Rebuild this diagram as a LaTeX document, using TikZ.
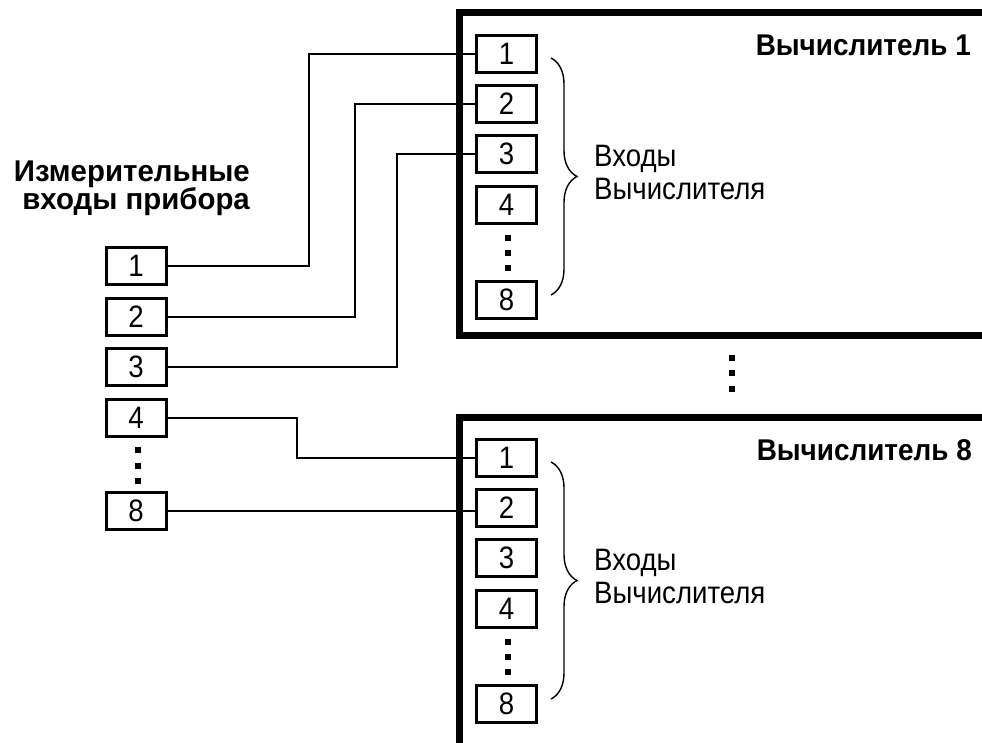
\documentclass[tikz,border=0pt]{standalone}
\usepackage{fontspec}
\setmainfont{Liberation Sans}
\newfontfamily\ttlfont{Liberation Sans}[FakeStretch=0.93]
\newfontfamily\lftfont{Liberation Sans}[FakeStretch=0.98]
\newfontfamily\regfont{Liberation Sans}[FakeStretch=0.89]
\usetikzlibrary{decorations.pathreplacing}
\begin{document}
\begin{tikzpicture}[x=1pt,y=-1pt,
  pin/.style={draw,line width=3pt,minimum width=60pt,minimum height=37.5pt,inner sep=0pt,font=\regfont\fontsize{31}{31}\selectfont},
  frame/.style={line width=7pt},
  wire/.style={line width=2pt},
  sq/.style={fill,minimum size=5.5pt,inner sep=0pt},
  title/.style={font=\ttlfont\bfseries\fontsize{30}{30}\selectfont,inner sep=0pt},
  lbl/.style={font=\regfont\fontsize{31}{33}\selectfont,inner sep=0pt,align=left},
  brc/.style={line width=1.4pt,decorate,decoration={brace,amplitude=26pt,aspect=0.5}}]
\useasboundingbox (0,0) rectangle (982,743);
\clip (0,0) rectangle (982,743);
% frames
\draw[frame] (459,12.5) rectangle (1100,335);
\draw[frame] (459,417) rectangle (1100,900);
% left pins
\node[pin] (L1) at (136,266) {1};
\node[pin] (L2) at (136,317) {2};
\node[pin] (L3) at (136,367) {3};
\node[pin] (L4) at (136,418) {4};
\node[pin] (L8) at (136,511) {8};
\foreach \y [count=\i] in {450,466,481} \node[sq] (ld\i) at (138,\y) {};
% top block pins
\node[pin] (A1) at (506.5,54) {1};
\node[pin] (A2) at (506.5,104) {2};
\node[pin] (A3) at (506.5,154) {3};
\node[pin] (A4) at (506.5,205) {4};
\node[pin] (A8) at (506.5,300) {8};
\foreach \y [count=\i] in {238,253,268} \node[sq] (ad\i) at (508,\y) {};
% bottom block pins
\node[pin] (B1) at (506.5,458) {1};
\node[pin] (B2) at (506.5,508) {2};
\node[pin] (B3) at (506.5,558) {3};
\node[pin] (B4) at (506.5,609) {4};
\node[pin] (B8) at (506.5,704) {8};
\foreach \y [count=\i] in {642,657,672} \node[sq] (bd\i) at (508,\y) {};
% middle dots
\foreach \y [count=\i] in {358,373,389} \node[sq] (md\i) at (732,\y) {};
% braces
\draw[brc] (551,58) -- (551,295);
\draw[brc] (551,462) -- (551,699);
% texts
\node[title,anchor=base east] (T1) at (971,55.5) {Вычислитель 1};
\node[title,anchor=base east] (T8) at (972,460) {Вычислитель 8};
\node[lbl,anchor=west] (I1) at (594,172) {Входы\\Вычислителя};
\node[lbl,anchor=west] (I8) at (594,576) {Входы\\Вычислителя};
\node[inner sep=0pt,align=right,anchor=east,font=\lftfont\bfseries\fontsize{30}{28.5}\selectfont] (M) at (250,188.5) {Измерительные\\входы прибора};
% wires
\coordinate (x1) at (309,0);
\coordinate (x2) at (355,0);
\coordinate (x3) at (397,0);
\coordinate (x4) at (297,0);
\draw[wire] (L1.east) -- (L1.east -| x1) -- (A1.west -| x1) -- (A1.west);
\draw[wire] (L2.east) -- (L2.east -| x2) -- (A2.west -| x2) -- (A2.west);
\draw[wire] (L3.east) -- (L3.east -| x3) -- (A3.west -| x3) -- (A3.west);
\draw[wire] (L4.east) -- (L4.east -| x4) -- (B1.west -| x4) -- (B1.west);
\draw[wire] (L8.east) -- (L8.east -| B2.west);
\end{tikzpicture}
\end{document}
